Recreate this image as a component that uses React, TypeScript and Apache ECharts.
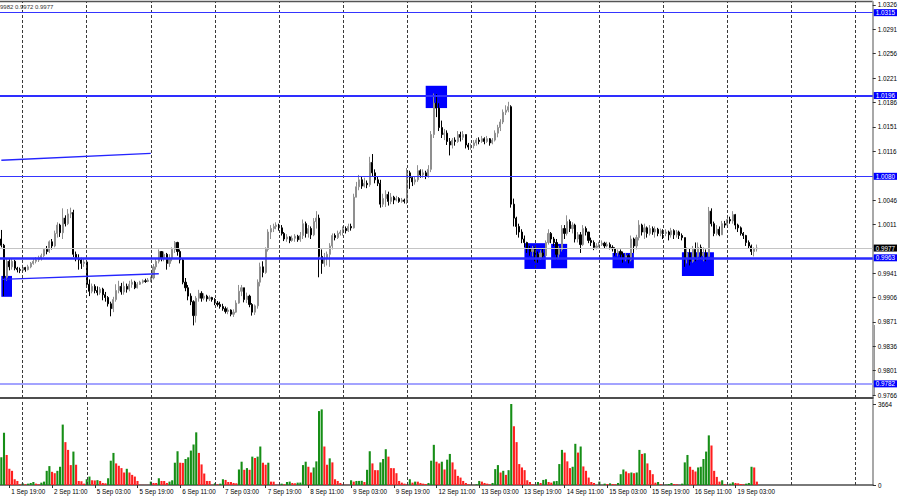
import React, { useEffect, useRef } from 'react';
import * as echarts from 'echarts';

// ---------- DATA (prices in 1/10000 units) ----------
const sessionDays = ['1 Sep', '2 Sep', '5 Sep', '6 Sep', '7 Sep', '8 Sep', '9 Sep', '12 Sep', '13 Sep', '14 Sep', '15 Sep', '16 Sep', '19 Sep', '20 Sep', '21 Sep'];
const FIRST_HOUR = 16;
const SLOT_COUNT = 327;

const firstOpen = 9990;

const closes = [
  9981, 9935, 9958, 9950, 9958, 9948, 9946, 9945,
  9949, 9946, 9950, 9955, 9958, 9960, 9963, 9966, 9975, 9972, 9986, 9980, 9998, 10010, 9999, 10020, 10012, 10026, 10028, 9968, 9962, 9960, 9955, 9957,
  9925, 9915, 9922, 9916, 9913, 9918, 9910, 9906, 9897, 9890, 9903, 9916, 9922, 9914, 9922, 9918, 9925, 9928, 9920, 9925, 9928, 9930, 9929, 9931,
  9934, 9950, 9958, 9972, 9962, 9968, 9955, 9962, 9975, 9985, 9972, 9960, 9928, 9920, 9908, 9900, 9880, 9905, 9912, 9905, 9908, 9904, 9906, 9903,
  9898, 9896, 9893, 9890, 9886, 9888, 9882, 9885, 9898, 9915, 9920, 9903, 9908, 9896, 9885, 9894, 9928, 9950, 9942, 9975, 10000, 10005, 10008, 10010,
  10006, 9998, 9990, 9993, 9988, 9991, 9994, 9989, 9995, 10012, 9998, 10005, 9996, 10015, 10020, 9965, 9955, 9962, 9968, 9980, 9995, 9992, 9998, 10000,
  10005, 10002, 10008, 10006, 10050, 10065, 10075, 10066, 10070, 10068, 10100, 10085, 10075, 10070, 10040, 10048, 10054, 10044, 10050, 10046, 10048, 10044, 10046, 10044,
  10085, 10078, 10072, 10075, 10088, 10082, 10085, 10080, 10090, 10140, 10185, 10178, 10150, 10140, 10142, 10130, 10125, 10132, 10130, 10140, 10136, 10140, 10125, 10122,
  10124, 10128, 10132, 10130, 10134, 10130, 10134, 10128, 10132, 10142, 10150, 10158, 10172, 10175, 10180, 10040, 10020, 10008, 10000, 9990, 9985, 9976, 9972, 9975,
  9968, 9962, 9970, 9966, 9985, 9998, 9990, 9985, 9968, 9975, 10005, 9998, 10015, 10005, 10010, 9990, 9996, 9982, 10005, 10000, 9988, 9985, 9978, 9980,
  9982, 9984, 9980, 9982, 9978, 9976, 9970, 9972, 9968, 9962, 9966, 9960, 9990, 9980, 9992, 10010, 10000, 10006, 9998, 10005, 10000, 10004, 9998, 10002,
  9998, 10000, 9996, 10002, 9996, 10000, 9995, 9992, 9962, 9970, 9958, 9975, 9965, 9978, 9966, 9970, 9965, 10030, 10012, 9998, 10004, 9996, 10012, 10010,
  10018, 10016, 10025, 10010, 10006, 9998, 9995, 9985, 9980, 9972, 9976, 9977,
];

const highs = [
  10003, 9983, 9962, 9961, 9962, 9960, 9950, 9949,
  9953, 9950, 9953, 9957, 9961, 9964, 9966, 9969, 9977, 9980, 9988, 9990, 10002, 10014, 10012, 10034, 10024, 10033, 10035, 10032, 9972, 9968, 9963, 9962,
  9957, 9932, 9926, 9925, 9922, 9921, 9920, 9914, 9908, 9900, 9907, 9925, 9930, 9927, 9929, 9926, 9930, 9932, 9930, 9928, 9930, 9932, 9933, 9934,
  9936, 9954, 9962, 9975, 9972, 9972, 9970, 9968, 9978, 9987, 9986, 9975, 9962, 9934, 9924, 9912, 9902, 9908, 9917, 9915, 9912, 9910, 9909, 9907,
  9905, 9901, 9900, 9897, 9893, 9892, 9889, 9889, 9902, 9924, 9924, 9920, 9913, 9910, 9898, 9896, 9932, 9956, 9958, 9978, 10004, 10010, 10012, 10014,
  10012, 10010, 10000, 9997, 9994, 9995, 9997, 9996, 10000, 10018, 10015, 10010, 10008, 10020, 10030, 10025, 9975, 9970, 9972, 9984, 9998, 9998, 10002, 10003,
  10008, 10008, 10012, 10012, 10055, 10072, 10082, 10080, 10078, 10074, 10108, 10112, 10090, 10080, 10075, 10055, 10060, 10058, 10056, 10052, 10052, 10050, 10049, 10048,
  10092, 10088, 10080, 10080, 10096, 10090, 10090, 10088, 10096, 10145, 10199, 10198, 10185, 10160, 10148, 10146, 10135, 10135, 10136, 10145, 10144, 10145, 10140, 10128,
  10127, 10132, 10135, 10136, 10138, 10136, 10138, 10135, 10135, 10146, 10154, 10162, 10176, 10182, 10187, 10182, 10048, 10022, 10012, 10004, 9995, 9986, 9980, 9980,
  9978, 9972, 9974, 9976, 9988, 10004, 10000, 9993, 9990, 9980, 10010, 10010, 10024, 10018, 10014, 10012, 10000, 10000, 10010, 10008, 10000, 9992, 9988, 9984,
  9986, 9988, 9986, 9986, 9985, 9981, 9978, 9975, 9975, 9972, 9970, 9968, 9995, 9992, 9996, 10017, 10012, 10012, 10008, 10010, 10008, 10008, 10006, 10005,
  10004, 10004, 10002, 10006, 10004, 10003, 10002, 9998, 9992, 9978, 9976, 9980, 9985, 9985, 9982, 9978, 9975, 10036, 10034, 10015, 10010, 10008, 10016, 10016,
  10022, 10022, 10030, 10026, 10012, 10008, 10000, 9996, 9988, 9982, 9978, 9982,
];

const lows = [
  9978, 9908, 9930, 9945, 9946, 9945, 9942, 9941,
  9942, 9943, 9945, 9948, 9953, 9955, 9957, 9959, 9964, 9968, 9970, 9975, 9978, 9992, 9993, 9990, 10008, 10010, 10020, 9964, 9958, 9946, 9947, 9950,
  9920, 9908, 9912, 9912, 9909, 9910, 9902, 9900, 9893, 9879, 9885, 9900, 9912, 9910, 9910, 9913, 9915, 9920, 9918, 9919, 9924, 9926, 9927, 9928,
  9928, 9932, 9946, 9955, 9958, 9958, 9946, 9950, 9958, 9970, 9966, 9955, 9925, 9915, 9902, 9895, 9866, 9870, 9900, 9900, 9902, 9900, 9901, 9900,
  9895, 9893, 9890, 9887, 9883, 9882, 9879, 9878, 9884, 9897, 9908, 9899, 9898, 9892, 9880, 9881, 9890, 9922, 9935, 9940, 9972, 9990, 10000, 10004,
  10002, 9995, 9987, 9986, 9984, 9986, 9986, 9986, 9986, 9990, 9992, 9992, 9990, 9994, 10005, 9935, 9940, 9950, 9952, 9950, 9975, 9988, 9990, 9995,
  9995, 9998, 10000, 10002, 10005, 10050, 10060, 10062, 10064, 10063, 10065, 10080, 10070, 10066, 10035, 10036, 10036, 10038, 10040, 10040, 10044, 10042, 10042, 10041,
  10040, 10062, 10066, 10068, 10072, 10078, 10078, 10076, 10078, 10086, 10135, 10165, 10145, 10135, 10132, 10125, 10110, 10120, 10124, 10128, 10130, 10132, 10120, 10118,
  10118, 10120, 10124, 10126, 10128, 10126, 10128, 10124, 10126, 10130, 10136, 10145, 10155, 10168, 10172, 10035, 10008, 9996, 9992, 9984, 9978, 9970, 9966, 9965,
  9958, 9956, 9960, 9962, 9965, 9982, 9984, 9980, 9960, 9962, 9972, 9990, 9995, 10000, 9998, 9985, 9985, 9970, 9980, 9995, 9984, 9980, 9974, 9975,
  9978, 9980, 9976, 9978, 9975, 9972, 9966, 9965, 9962, 9956, 9958, 9955, 9958, 9970, 9975, 9988, 9995, 9990, 9992, 9995, 9996, 9992, 9994, 9994,
  9990, 9994, 9988, 9992, 9990, 9992, 9990, 9988, 9950, 9955, 9952, 9956, 9958, 9960, 9960, 9958, 9958, 9965, 10008, 9994, 9995, 9994, 9996, 10006,
  10008, 10012, 10012, 10004, 10000, 9995, 9990, 9980, 9976, 9967, 9965, 9972,
];

const volumes = [
  1252, 2367, 1359, 733, 641, 260, 183, 31,
  76, 31, 61, 92, 137, 61, 31, 107, 153, 641, 855, 596, 534, 641, 825, 2733, 1939, 1588, 901, 1512, 916, 183, 170, 61,
  260, 382, 214, 205, 220, 183, 92, 76, 305, 1099, 1451, 977, 870, 764, 565, 733, 565, 458, 382, 183, 10, 8, 6, 5,
  153, 92, 90, 305, 183, 180, 92, 153, 214, 1008, 1527, 1008, 1000, 1176, 1252, 1557, 1832, 2382, 1451, 931, 519, 183, 180, 10,
  76, 31, 61, 260, 229, 137, 135, 92, 76, 702, 1054, 687, 764, 687, 1283, 1222, 1283, 1741, 1008, 916, 1008, 153, 150, 15,
  5, 61, 31, 137, 153, 92, 76, 107, 110, 901, 1054, 825, 565, 794, 1069, 3344, 3420, 1741, 916, 1206, 1023, 260, 183, 92,
  15, 10, 5, 214, 153, 183, 185, 190, 137, 687, 1527, 977, 672, 670, 1023, 1176, 1619, 1283, 764, 760, 534, 183, 107, 61,
  31, 260, 107, 153, 150, 92, 61, 46, 92, 1099, 1817, 1054, 977, 1054, 702, 1145, 1405, 1023, 702, 412, 336, 183, 92, 31,
  8, 6, 31, 183, 153, 92, 61, 31, 92, 718, 901, 565, 641, 458, 672, 3664, 2657, 1939, 947, 794, 672, 214, 137, 31,
  15, 137, 92, 229, 260, 137, 107, 168, 183, 947, 1588, 1466, 1069, 764, 825, 1863, 1466, 1741, 840, 641, 336, 137, 92, 5,
  153, 5, 61, 46, 76, 46, 31, 92, 489, 702, 611, 534, 565, 534, 565, 1588, 1405, 1435, 977, 672, 489, 107, 137, 31,
  5, 15, 46, 92, 46, 31, 5, 61, 1023, 1359, 825, 687, 611, 794, 825, 1176, 1512, 2245, 1787, 641, 366, 153, 214, 31,
  5, 61, 122, 92, 76, 46, 31, 61, 92, 825, 794, 153,
];

const timeTickLabels = ['1 Sep 19:00', '2 Sep 11:00', '5 Sep 03:00', '5 Sep 19:00', '6 Sep 11:00', '7 Sep 03:00', '7 Sep 19:00', '8 Sep 11:00', '9 Sep 03:00', '9 Sep 19:00', '12 Sep 11:00', '13 Sep 03:00', '13 Sep 19:00', '14 Sep 11:00', '15 Sep 03:00', '15 Sep 19:00', '16 Sep 11:00', '19 Sep 03:00'];
const dayStarts = ['2 Sep 00:00', '5 Sep 00:00', '6 Sep 00:00', '7 Sep 00:00', '8 Sep 00:00', '9 Sep 00:00', '12 Sep 00:00', '13 Sep 00:00', '14 Sep 00:00', '15 Sep 00:00', '16 Sep 00:00', '19 Sep 00:00', '20 Sep 00:00', '21 Sep 00:00'];

const priceTicks = [9766, 9801, 9836, 9871, 9906, 9941, 10011, 10046, 10116, 10151, 10186, 10221, 10256, 10291, 10326];

const levelPrices = [10315, 10196, 10080, 9977, 9963, 9782];
const fibPrices = [10196, 9963];
const fibTexts = ['261.8', '323.6'];

const zoneStart = ['1 Sep 16:00', '12 Sep 07:00', '13 Sep 20:00', '14 Sep 06:00', '15 Sep 05:00', '16 Sep 07:00'];
const zoneEnd = ['1 Sep 20:00', '12 Sep 15:00', '14 Sep 04:00', '14 Sep 12:00', '15 Sep 13:00', '16 Sep 19:00'];
const zoneTop = [9937, 10210, 9984, 9983, 9970, 9971];
const zoneBottom = [9907, 10178, 9947, 9948, 9948, 9937];

const trendStart = ['1 Sep 16:00', '1 Sep 16:00'];
const trendEnd = ['6 Sep 00:00', '6 Sep 03:00'];
const trendStartPrice = [10103, 9932];
const trendEndPrice = [10113, 9940];

const headerText = '9982 0.9972 0.9977';

// ---------- STYLES ----------
const FONT = "'Liberation Sans', Arial, sans-serif";
const FS = 6.3;
const levelLineColors = ['#3535ff', '#2e2eff', '#3535ff', '#c4c4c4', '#2a2aff', '#a3a3ff'];
const levelLineWidths = [1.2, 2.2, 1.2, 1, 2.6, 2];
const levelBoxColors = ['#0000ff', '#0000ff', '#0000ff', '#000000', '#0000ff', '#0000ff'];

const P = (v: number) => v / 10000;

const categories: string[] = [];
sessionDays.forEach((d, k) => {
  for (let h = k === 0 ? FIRST_HOUR : 0; h < 24; h++) {
    categories.push(`${d} ${String(h).padStart(2, '0')}:00`);
  }
});
categories.length = SLOT_COUNT;

const candles = closes.map((c, i) => {
  const o = i === 0 ? firstOpen : closes[i - 1];
  return [P(o), P(c), P(lows[i]), P(highs[i])];
});

const volBars = volumes.map((v, i) => ({
  value: v,
  itemStyle: { color: i === 0 || v >= volumes[i - 1] ? '#168e16' : '#ff1e1e' },
}));

const maxVol = Math.max(...volumes);
const tickSet = new Set(timeTickLabels);
const isTick = (_i: number, value: string) => tickSet.has(value);

const dayLineStyle = { type: [3, 2], color: '#3a3a3a', width: 1 };

const dayLineData = dayStarts.map((d) => ({
  xAxis: d,
  lineStyle: dayLineStyle,
  label: { show: false },
}));

const levelData = levelPrices.map((p, k) => ({
  yAxis: P(p),
  lineStyle: { type: 'solid', color: levelLineColors[k], width: levelLineWidths[k] },
  label: {
    show: true,
    position: 'end',
    distance: 1,
    formatter: P(p).toFixed(4),
    color: '#ffffff',
    backgroundColor: levelBoxColors[k],
    padding: [0, 2, 0, 2],
    lineHeight: 7,
    fontSize: FS,
    fontFamily: FONT,
  },
}));

const fibData = fibPrices.map((p, k) => ({
  yAxis: P(p),
  lineStyle: { opacity: 0, width: 0 },
  label: {
    show: true,
    position: 'insideEndTop',
    distance: [2, 1],
    formatter: fibTexts[k],
    color: '#4a4aff',
    fontSize: FS,
    fontFamily: FONT,
  },
}));

const trendData = trendStart.map((s, k) => [
  { coord: [s, P(trendStartPrice[k])], lineStyle: { type: 'solid', color: '#2424ff', width: 1.4 }, label: { show: false } },
  { coord: [trendEnd[k], P(trendEndPrice[k])] },
]);

const zoneData = zoneStart.map((s, k) => [
  { xAxis: s, yAxis: P(zoneTop[k]) },
  { xAxis: zoneEnd[k], yAxis: P(zoneBottom[k]) },
]);

const option: any = {
  animation: false,
  backgroundColor: '#ffffff',
  grid: [
    { left: -0.67, width: 873.67, top: 2, height: 396 },
    { left: -0.67, width: 873.67, top: 400, height: 85 },
  ],
  xAxis: [
    {
      type: 'category', gridIndex: 0, data: categories, boundaryGap: true,
      axisLine: { show: true, onZero: false, lineStyle: { color: '#4d4d4d', width: 2 } },
      axisTick: { show: false }, axisLabel: { show: false }, splitLine: { show: false },
    },
    {
      type: 'category', gridIndex: 1, data: categories, boundaryGap: true,
      axisLine: { show: true, onZero: false, lineStyle: { color: '#4d4d4d', width: 1.5 } },
      axisTick: { show: true, alignWithLabel: true, interval: isTick, length: 3, lineStyle: { color: '#333333' } },
      axisLabel: { show: true, interval: isTick, align: 'left', padding: [0, 0, 0, 2], margin: 3.5, fontSize: FS, color: '#000000', fontFamily: FONT },
      splitLine: { show: false },
    },
  ],
  yAxis: [
    {
      type: 'value', gridIndex: 0, position: 'right', min: 0.97617, max: 1.03303,
      axisLine: { show: true, lineStyle: { color: '#a8a8a8', width: 2 } },
      axisTick: { show: true, customValues: priceTicks.map(P), length: 3, lineStyle: { color: '#333333' } },
      axisLabel: { show: true, customValues: priceTicks.map(P), formatter: (v: number) => v.toFixed(4), fontSize: FS, color: '#000000', margin: 5, fontFamily: FONT },
      splitLine: { show: false },
    },
    {
      type: 'value', gridIndex: 1, position: 'right', min: 0, max: 3845,
      axisLine: { show: true, lineStyle: { color: '#a8a8a8', width: 2 } },
      axisTick: { show: true, customValues: [0, maxVol], length: 3, lineStyle: { color: '#333333' } },
      axisLabel: { show: true, customValues: [0, maxVol], formatter: (v: number) => String(Math.round(v)), fontSize: FS, color: '#000000', margin: 5, fontFamily: FONT },
      splitLine: { show: false },
    },
  ],
  series: [
    {
      type: 'candlestick',
      xAxisIndex: 0,
      yAxisIndex: 0,
      data: candles,
      barWidth: 1.6,
      itemStyle: { color: '#9a9a9a', color0: '#000000', borderColor: '#8f8f8f', borderColor0: '#000000', borderWidth: 1 },
      emphasis: { disabled: true },
      markArea: {
        silent: true,
        precision: 4,
        itemStyle: { color: '#0000ff', opacity: 1 },
        emphasis: { disabled: true },
        data: zoneData,
      },
      markLine: {
        silent: true,
        precision: 4,
        symbol: ['none', 'none'],
        animation: false,
        emphasis: { disabled: true },
        label: { show: false },
        data: [...dayLineData, ...trendData, ...levelData, ...fibData],
      },
    },
    {
      type: 'bar',
      xAxisIndex: 1,
      yAxisIndex: 1,
      data: volBars,
      barWidth: 2.1,
      emphasis: { disabled: true },
      markLine: {
        silent: true,
        symbol: ['none', 'none'],
        animation: false,
        emphasis: { disabled: true },
        label: { show: false },
        data: dayLineData,
      },
    },
  ],
  graphic: [
    { type: 'line', shape: { x1: 0, y1: 1.5, x2: 873, y2: 1.5 }, style: { stroke: '#555555', lineWidth: 1.5 }, silent: true },
    { type: 'rect', shape: { x: 872, y: 325, width: 2.4, height: 70 }, style: { fill: '#000000' }, silent: true },
    { type: 'text', x: 0, y: 4, style: { text: headerText, fontSize: 6, fill: '#333333', fontFamily: FONT }, silent: true },
  ],
};

export default function App() {
  const ref = useRef<HTMLDivElement>(null);
  useEffect(() => {
    if (!ref.current) return;
    const chart = echarts.init(ref.current, null, { renderer: 'svg' });
    chart.setOption(option);
    return () => chart.dispose();
  }, []);
  return (
    <div
      ref={ref}
      style={{ position: 'fixed', left: 0, top: 0, width: 900, height: 500, background: '#ffffff' }}
    />
  );
}
